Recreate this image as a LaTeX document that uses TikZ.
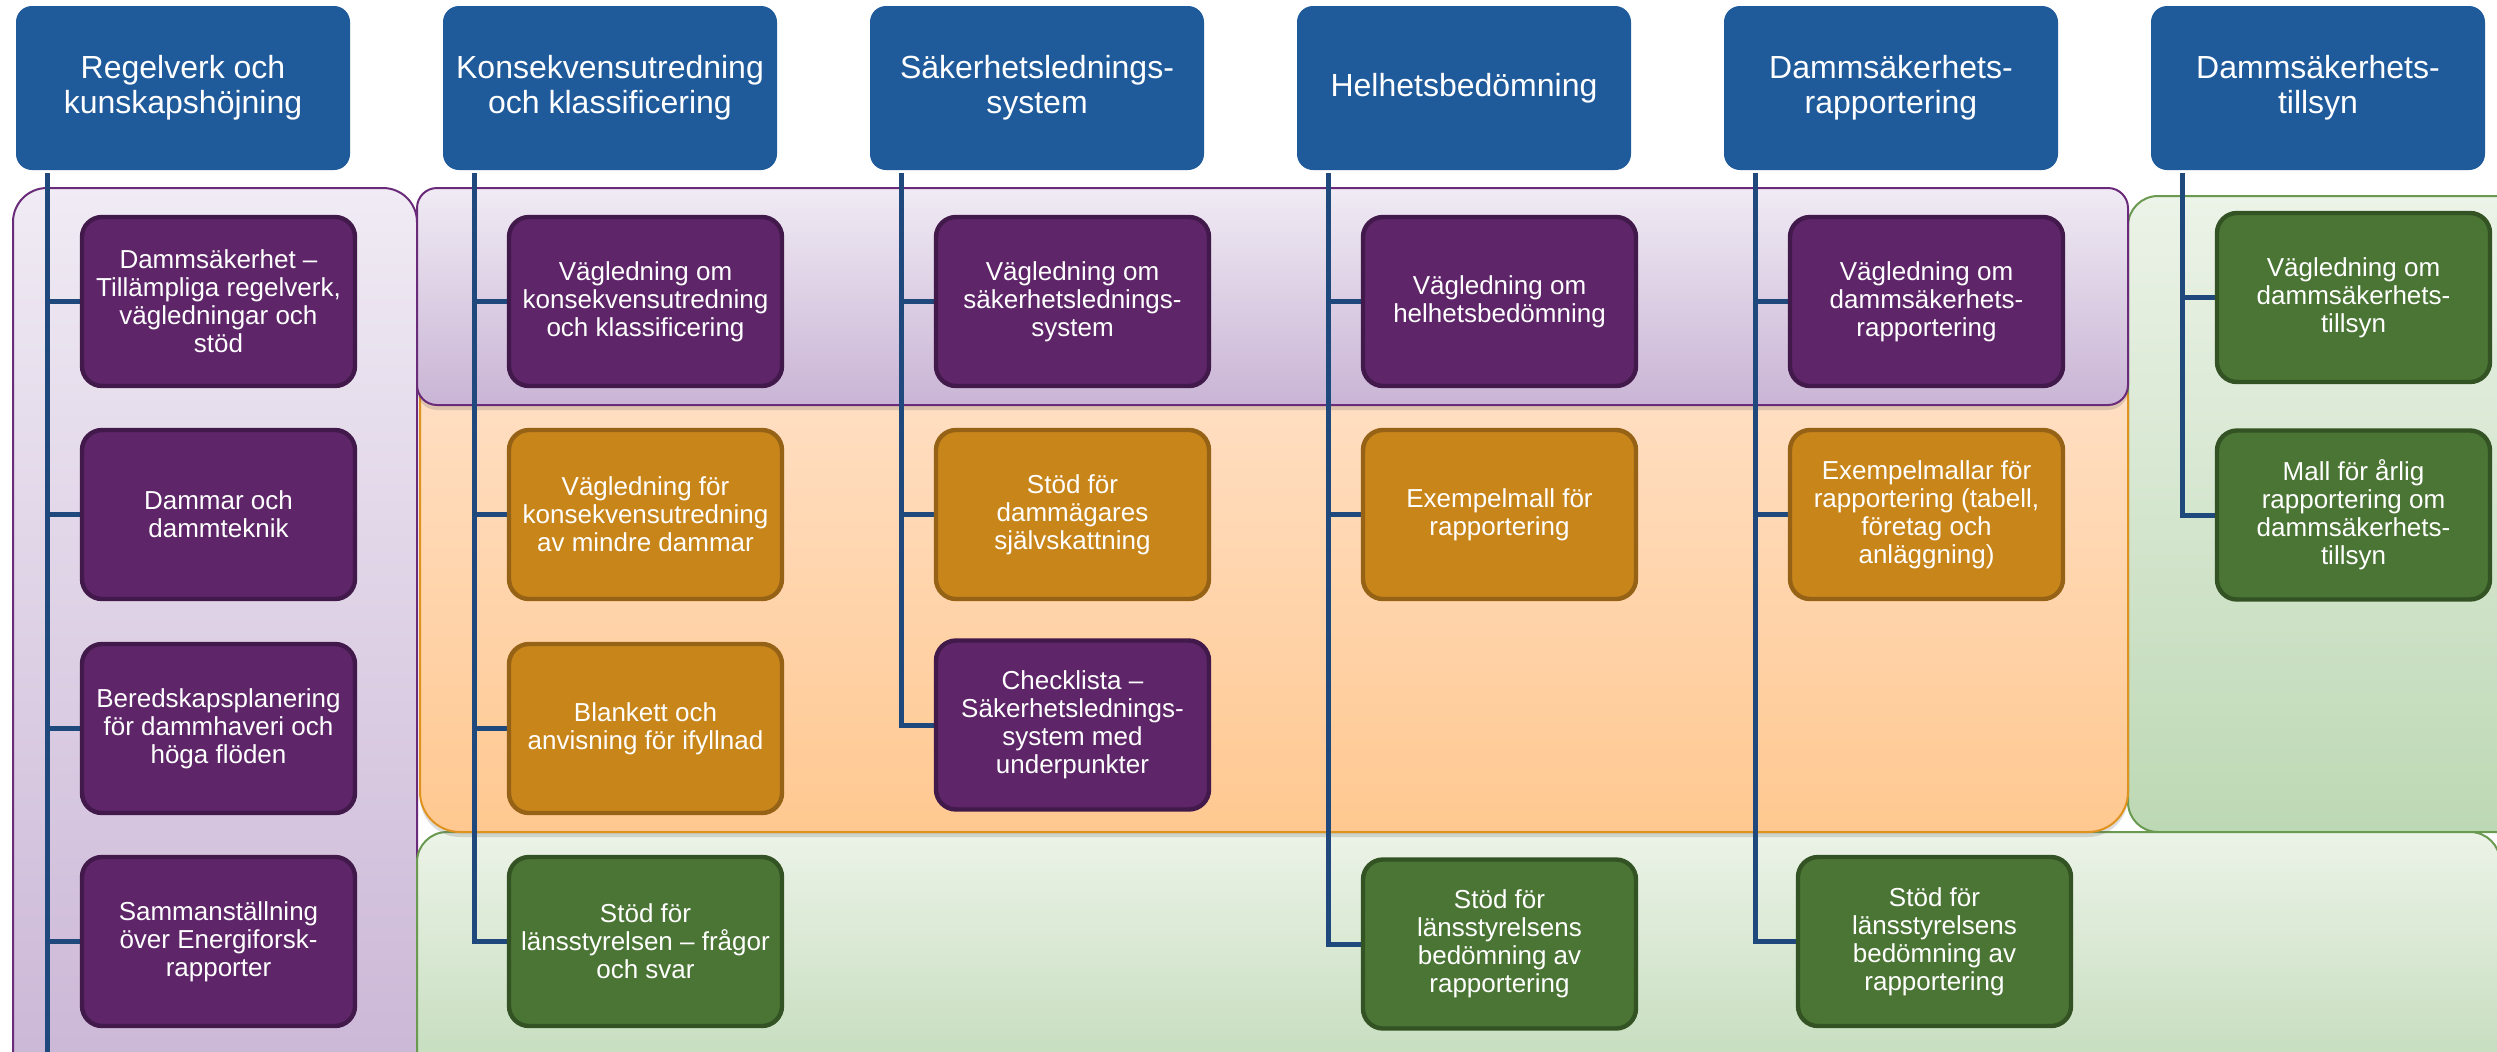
\documentclass[tikz,border=0pt]{standalone}
\usepackage{fontspec}
\setmainfont{Liberation Sans}
\usetikzlibrary{shadows}
\definecolor{hdrblue}{RGB}{31,90,155}
\definecolor{connblue}{RGB}{31,73,125}
\definecolor{purfill}{RGB}{94,37,105}
\definecolor{purdraw}{RGB}{66,25,75}
\definecolor{orfill}{RGB}{200,133,26}
\definecolor{ordraw}{RGB}{150,98,22}
\definecolor{grfill}{RGB}{74,117,52}
\definecolor{grdraw}{RGB}{52,83,36}
\definecolor{ppTop}{RGB}{240,235,244}
\definecolor{ppBot}{RGB}{201,180,213}
\definecolor{ppLine}{RGB}{106,44,122}
\definecolor{orTop}{RGB}{255,224,198}
\definecolor{orBot}{RGB}{255,200,144}
\definecolor{orLine}{RGB}{224,146,30}
\definecolor{grTop}{RGB}{236,243,232}
\definecolor{grBot}{RGB}{189,216,180}
\definecolor{grLine}{RGB}{106,154,79}
\pgfdeclarelayer{bg}
\pgfdeclarelayer{mid}
\pgfsetlayers{bg,mid,main}
\tikzset{
  hdr/.style={rectangle, rounded corners=8pt, fill=hdrblue, text=white,
    minimum width=167pt, minimum height=82pt, inner sep=0pt, align=center,
    font=\fontsize{16}{17.5}\selectfont},
  itembox/.style={rectangle, rounded corners=10pt, line width=2.2pt, text=white,
    minimum width=136.5pt, minimum height=84.5pt, inner sep=0pt, align=center,
    font=\fontsize{13}{14}\selectfont},
  pbox/.style={itembox, fill=purfill, draw=purdraw},
  obox/.style={itembox, fill=orfill, draw=ordraw},
  gbox/.style={itembox, fill=grfill, draw=grdraw},
  conn/.style={draw=connblue, line width=2.5pt, line join=miter},
  softshadow/.style={drop shadow={shadow xshift=0pt, shadow yshift=-2.5pt, opacity=0.22, fill=black!60}},
  purpanel/.style={draw=ppLine, line width=1pt, top color=ppTop, bottom color=ppBot},
  orpanel/.style={draw=orLine, line width=1pt, top color=orTop, bottom color=orBot},
  grpanel/.style={draw=grLine, line width=1pt, top color=grTop, bottom color=grBot},
}
\begin{document}
\begin{tikzpicture}[x=0.5pt,y=-0.5pt]
\useasboundingbox (0,0) rectangle (2497,1051);

% background panels
\begin{pgfonlayer}{bg}
  \path[purpanel, rounded corners=17pt] (13,188) rectangle (417,1120);
  \path[grpanel, rounded corners=15pt] (2128,196) rectangle (2540,832);
  \path[grpanel, rounded corners=15pt] (417,832) rectangle (2500,1120);
  \path[orpanel, softshadow, rounded corners=20pt] (420,360) rectangle (2128,832);
  \path[purpanel, softshadow, rounded corners=10pt] (417,188) rectangle (2128,405);
\end{pgfonlayer}

% headers
\node[hdr] (h1) at (183,88) {Regelverk och\\kunskapshöjning};
\node[hdr] (h2) at (610,88) {Konsekvensutredning\\och klassificering};
\node[hdr] (h3) at (1037,88) {Säkerhetslednings-\\system};
\node[hdr] (h4) at (1464,88) {Helhetsbedömning};
\node[hdr] (h5) at (1891,88) {Dammsäkerhets-\\rapportering};
\node[hdr] (h6) at (2318,88) {Dammsäkerhets-\\tillsyn};

% column 1
\node[pbox] (a1) at (218.5,301.5) {Dammsäkerhet –\\Tillämpliga regelverk,\\vägledningar och\\stöd};
\node[pbox] (a2) at (218.5,514.5) {Dammar och\\dammteknik};
\node[pbox] (a3) at (218.5,728.5) {Beredskapsplanering\\för dammhaveri och\\höga flöden};
\node[pbox] (a4) at (218.5,941.5) {Sammanställning\\över Energiforsk-\\rapporter};

% column 2
\node[pbox] (b1) at (645.5,301.5) {Vägledning om\\konsekvensutredning\\och klassificering};
\node[obox] (b2) at (645.5,514.5) {Vägledning för\\konsekvensutredning\\av mindre dammar};
\node[obox] (b3) at (645.5,728.5) {Blankett och\\anvisning för ifyllnad};
\node[gbox] (b4) at (645.5,941.5) {Stöd för\\länsstyrelsen – frågor\\och svar};

% column 3
\node[pbox] (c1) at (1072.5,301.5) {Vägledning om\\säkerhetslednings-\\system};
\node[obox] (c2) at (1072.5,514.5) {Stöd för\\dammägares\\självskattning};
\node[pbox] (c3) at (1072.5,725) {Checklista –\\Säkerhetslednings-\\system med\\underpunkter};

% column 4
\node[pbox] (d1) at (1499.5,301.5) {Vägledning om\\helhetsbedömning};
\node[obox] (d2) at (1499.5,514.5) {Exempelmall för\\rapportering};
\node[gbox] (d4) at (1499.5,944) {Stöd för\\länsstyrelsens\\bedömning av\\rapportering};

% column 5
\node[pbox] (e1) at (1926.5,301.5) {Vägledning om\\dammsäkerhets-\\rapportering};
\node[obox] (e2) at (1926.5,514.5) {Exempelmallar för\\rapportering (tabell,\\företag och\\anläggning)};
\node[gbox] (e4) at (1934.5,941.5) {Stöd för\\länsstyrelsens\\bedömning av\\rapportering};

% column 6
\node[gbox] (f1) at (2353.5,297.5) {Vägledning om\\dammsäkerhets-\\tillsyn};
\node[gbox] (f2) at (2353.5,515) {Mall för årlig\\rapportering om\\dammsäkerhets-\\tillsyn};

% trunk tops
\coordinate (t1) at (47,173);
\coordinate (t2) at (474,173);
\coordinate (t3) at (901,173);
\coordinate (t4) at (1328,173);
\coordinate (t5) at (1755,173);
\coordinate (t6) at (2182,173);
\coordinate (t1end) at (47,1060);

\begin{pgfonlayer}{mid}
  \draw[conn] (t1) -- (t1end);
  \foreach \b in {a1,a2,a3,a4} \draw[conn] (t1) |- (\b.west);
  \foreach \b in {b1,b2,b3,b4} \draw[conn] (t2) |- (\b.west);
  \foreach \b in {c1,c2,c3} \draw[conn] (t3) |- (\b.west);
  \foreach \b in {d1,d2,d4} \draw[conn] (t4) |- (\b.west);
  \foreach \b in {e1,e2,e4} \draw[conn] (t5) |- (\b.west);
  \foreach \b in {f1,f2} \draw[conn] (t6) |- (\b.west);
\end{pgfonlayer}
\end{tikzpicture}
\end{document}
